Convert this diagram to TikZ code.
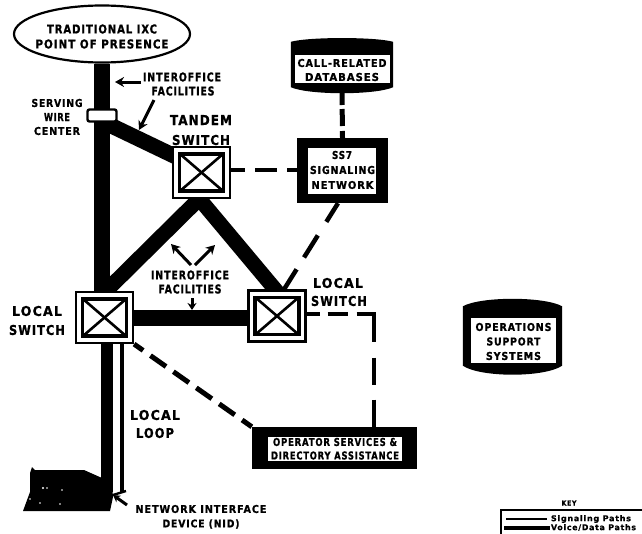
\documentclass[tikz,border=0pt]{standalone}
\usepackage{fontspec}
\usepackage{graphicx}
\setmainfont{DejaVu Sans}
\newfontfamily\labfont[LetterSpace=9,FakeBold=1]{DejaVu Sans Bold}
\usetikzlibrary{arrows.meta,calc,shapes.geometric}
\pgfdeclarelayer{bg}
\pgfsetlayers{bg,main}
\newcommand{\fitt}[3]{\resizebox{#1pt}{#2pt}{\labfont #3}}
\tikzset{
  lab/.style={inner sep=0pt,outer sep=0pt,text=black},
  trunk/.style={line width=15.5pt,black},
  sigdash/.style={line width=4.5pt,black},
  callout/.style={line width=3pt,black,-{Stealth[length=9pt,width=10pt]}},
  switchbox/.style={draw=black,fill=white,line width=2.2pt,minimum width=57pt,minimum height=51pt,inner sep=0pt,
    path picture={
      \draw[line width=3.4pt,black]
        ([xshift=6.5pt,yshift=-7pt]path picture bounding box.north west) rectangle
        ([xshift=-6.5pt,yshift=7pt]path picture bounding box.south east);
      \draw[line width=2.6pt,black]
        ([xshift=7pt,yshift=-7pt]path picture bounding box.north west) --
        ([xshift=-7pt,yshift=7pt]path picture bounding box.south east);
      \draw[line width=2.6pt,black]
        ([xshift=-7pt,yshift=-7pt]path picture bounding box.north east) --
        ([xshift=7pt,yshift=7pt]path picture bounding box.south west);
    }},
  darkbox/.style={fill=black,inner sep=0pt},
  whitebox/.style={fill=white,inner sep=0pt}
}
\newcommand{\cylcaps}[3]{%
  \fill[black] (#1.north west) .. controls +(18,-#2) and +(-18,-#2) .. (#1.north east)
    -- (#1.south east) .. controls +(-18,#3) and +(18,#3) .. (#1.south west) -- cycle;}
\begin{document}
\begin{tikzpicture}[x=1pt,y=-1pt]
\useasboundingbox (0,0) rectangle (642,533);
\clip (0,0) rectangle (642,533);

% nodes
\node[draw=black,line width=2.2pt,fill=white,ellipse,minimum width=176pt,minimum height=57pt,inner sep=0pt] (pop) at (102,34) {};
\node[lab] (popa) at (102,29) {\fitt{110}{9}{TRADITIONAL IXC}};
\node[lab] (popb) at (102,44) {\fitt{133}{9}{POINT OF PRESENCE}};

\node[draw=black,line width=2.4pt,fill=white,rounded corners=2pt,minimum width=29pt,minimum height=12pt,inner sep=0pt] (srv) at (102,115.5) {};
\node[switchbox] (tandem) at (201.5,172.5) {};
\node[switchbox] (left) at (104.5,317.5) {};
\node[switchbox] (right) at (277,316) {};

% SS7
\node[darkbox,minimum width=91pt,minimum height=65pt] (ss7) at (342.5,170.5) {};
\node[whitebox,minimum width=68pt,minimum height=46pt] (ss7t) at (342,171) {};
\node[lab] at (342,155) {\fitt{20}{8}{SS7}};
\node[lab] at (342.5,170) {\fitt{65}{8}{SIGNALING}};
\node[lab] at (342.5,185) {\fitt{62}{8}{NETWORK}};

% database bodies
\node[darkbox,minimum width=102pt,minimum height=45pt] (db) at (342,64.5) {};
\node[darkbox,minimum width=99pt,minimum height=59pt] (oss) at (512.5,336) {};

% operator
\node[darkbox,minimum width=165pt,minimum height=42pt] (oper) at (334.5,448) {};
\node[whitebox,minimum width=134pt,minimum height=24pt] (opert) at (335,449) {};
\node[lab] at (335,442) {\fitt{124}{8}{OPERATOR SERVICES \&}};
\node[lab] at (335,455.5) {\fitt{128}{8}{DIRECTORY ASSISTANCE}};

% key
\node[draw=black,line width=1.4pt,fill=white,minimum width=200pt,minimum height=50pt,inner sep=0pt] (keybox) at (601,535) {};
\node[lab] (keyt) at (569,503) {\fitt{15}{5}{KEY}};
\coordinate (ka) at (506,519);
\coordinate (kb) at (547,519);
\coordinate (kc) at (504,527.5);
\coordinate (kd) at (550,527.5);
\node[lab,anchor=west] (ksig) at (551,519) {\fitt{80}{6}{Signaling Paths}};
\node[lab,anchor=west] (kvoice) at (551,527.5) {\fitt{85}{6}{Voice/Data Paths}};

% bg connectors
\begin{pgfonlayer}{bg}
  \draw[trunk,line width=16.5pt] (pop.south) -- (left.north -| pop.south);
  \draw[trunk] ([xshift=3pt]srv.south) -- ([xshift=-11.5pt,yshift=9pt]tandem.center);
  \draw[trunk,line width=15pt] ([xshift=6.5pt,yshift=9pt]tandem.south) -- ([xshift=-4.5pt,yshift=-6pt]left.north);
  \draw[trunk,line width=15pt] ([xshift=-9.5pt,yshift=9pt]tandem.south) -- ([xshift=4pt,yshift=-7pt]right.north);
  \draw[trunk] (left.east |- 0,318) -- (right.west |- 0,318);
  \draw[line width=12pt,black] (left.south -| 107,0) -- (107,492);
  \draw[line width=4pt,black] (left.south -| 122,0) -- (122,492);
\end{pgfonlayer}

\cylcaps{db}{5}{8}
\cylcaps{oss}{10}{12}
\node[whitebox,minimum width=95pt,minimum height=28pt] (dbt) at (342.5,69) {};
\node[lab] at (342,63) {\fitt{89}{8}{CALL-RELATED}};
\node[lab] at (342,77) {\fitt{74}{8}{DATABASES}};
\node[whitebox,minimum width=85pt,minimum height=45pt] (osst) at (513.5,340.5) {};
\node[lab] at (513.5,327) {\fitt{76}{8}{OPERATIONS}};
\node[lab] at (513.5,341.5) {\fitt{54}{8}{SUPPORT}};
\node[lab] at (513.5,356) {\fitt{55}{8}{SYSTEMS}};

% signalling dashes
\draw[sigdash,dash pattern=on 22pt off 10pt,dash phase=8pt] (tandem.east |- 0,170) -- (ss7.west |- 0,170);
\draw[line width=5pt,black,dash pattern=on 12pt off 4pt on 17pt off 5pt on 10pt] (db.south |- 0,93) -- (ss7.north);
\draw[sigdash,dash pattern=on 22pt off 16pt on 26pt off 14pt on 30pt] ([xshift=-4.5pt]ss7.south) -- ([xshift=7pt]right.north);
\draw[sigdash,dash pattern=on 13pt off 8pt on 20pt off 9pt on 45pt off 16pt on 27pt off 15pt on 27pt] (right.east |- 0,314) -- (374,314) -- (oper.north -| 374,0);
\draw[line width=5pt,black,dash pattern=on 19pt off 9pt,dash phase=8pt] (left.south east) -- (oper.north west);

% telephone
\fill[black] (23,511) -- (30,492) -- (30,473) -- (32,467) -- (35,470) -- (84,470) -- (102,478) -- (112,485) -- (113,497) -- (110,511) -- cycle;
\fill[white] (43,488) circle (1.2) (47,488) circle (.8) (62,490) circle (.9) (30,499) circle (.9) (40,503) circle (.8) (60,504) circle (.8);
\coordinate (nida) at (127,505);
\coordinate (nidb) at (113,495);
\coordinate (nidc) at (126,491);
\draw[line width=3pt,black,-{Stealth[length=7pt,width=8pt]}] (nida) -- (nidb);
\draw[line width=2.4pt,black] (nidc) -- (nidb);

% labels
\node[lab] at (182,77) {\fitt{78}{9}{INTEROFFICE}};
\node[lab] at (183,91) {\fitt{63}{9}{FACILITIES}};
\node[lab] at (57,103) {\fitt{51}{8}{SERVING}};
\node[lab] at (57,117) {\fitt{26}{8}{WIRE}};
\node[lab] at (57,131) {\fitt{46}{8}{CENTER}};
\node[lab] at (201,120) {\fitt{62}{10}{TANDEM}};
\node[lab] at (201,140) {\fitt{58}{10}{SWITCH}};
\node[lab] at (37,311) {\fitt{50}{10}{LOCAL}};
\node[lab] at (37,330) {\fitt{56}{10}{SWITCH}};
\node[lab] at (338,283) {\fitt{50}{10}{LOCAL}};
\node[lab] at (339,301) {\fitt{56}{10}{SWITCH}};
\node[lab] at (155,415) {\fitt{50}{10}{LOCAL}};
\node[lab] at (155,433) {\fitt{38}{10}{LOOP}};
\node[lab] at (201,509) {\fitt{131}{8}{NETWORK INTERFACE}};
\node[lab] at (201,524) {\fitt{77}{8}{DEVICE (NID)}};
\node[lab] (if1) at (190,275) {\fitt{78}{9}{INTEROFFICE}};
\node[lab] (if2) at (190,289) {\fitt{63}{9}{FACILITIES}};

% callouts
\coordinate (ca) at (141,82);
\coordinate (cb) at (115,82);
\coordinate (cc) at (154,100);
\coordinate (cd) at (139,130);
\coordinate (ce) at (191,265);
\coordinate (cf) at (171,244);
\coordinate (cg) at (195,265);
\coordinate (ch) at (215,245);
\coordinate (ci) at (192,298);
\coordinate (cj) at (192,310);
\draw[callout] (ca) -- (cb);
\draw[callout] (cc) -- (cd);
\draw[callout] (ce) -- (cf);
\draw[callout] (cg) -- (ch);
\draw[callout,-{Stealth[length=7pt,width=9pt]}] (ci) -- (cj);

% key lines
\draw[line width=2pt,black] (ka) -- (kb);
\draw[line width=4pt,black] (kc) -- (kd);
\end{tikzpicture}
\end{document}
